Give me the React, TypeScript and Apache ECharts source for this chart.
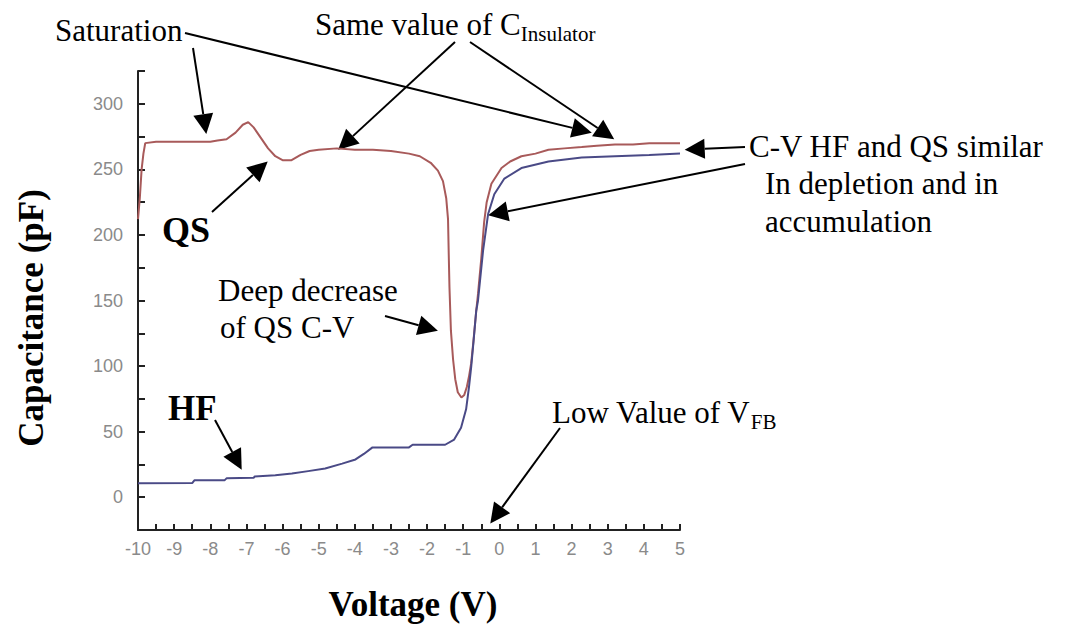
import React, { useEffect, useRef } from "react";
import * as echarts from "echarts";

// QS (quasi-static) C-V curve
const QS_VOLT = [
  -10, -9.95, -9.9, -9.85, -9.8, -9.5, -9.0, -8.5, -8.0, -7.8, -7.55, -7.3, -7.1, -6.95, -6.8, -6.6, -6.4, -6.2,
  -6.0, -5.75, -5.5, -5.25, -5.0, -4.5, -4.0, -3.5, -3.0, -2.5, -2.2, -1.9, -1.7, -1.56, -1.47, -1.42, -1.4,
  -1.38, -1.34, -1.28, -1.22, -1.15, -1.05, -0.97, -0.9, -0.84, -0.78, -0.72, -0.64, -0.59, -0.5, -0.42,
  -0.35, -0.22, 0.06, 0.3, 0.61, 1.0, 1.36, 1.8, 2.28, 2.7, 3.2, 3.7, 4.15, 4.6, 5.0,
];
const QS_CAP = [
  212, 228, 250, 262, 270, 271, 271, 271, 271, 272, 273, 278, 284, 286, 282, 274, 266, 260,
  257, 257, 261, 264, 265, 266, 265, 265, 264, 262, 260, 255, 249, 241, 228, 212, 185,
  160, 127, 105, 90, 80, 76, 78, 84, 92, 102, 118, 142, 155, 182, 210,
  225, 239, 251, 256, 260, 262, 265, 266, 267, 268, 269, 269, 270, 270, 270,
];

// HF (high frequency) C-V curve
const HF_VOLT = [
  -10, -8.5, -8.44, -7.6, -7.55, -6.8, -6.77, -6.2, -5.74, -5.29, -4.82, -4.35, -3.98, -3.75, -3.51, -2.5,
  -2.4, -1.5, -1.25, -1.06, -0.92, -0.84, -0.78, -0.72, -0.64, -0.59, -0.45, -0.31, -0.14, 0.14, 0.61,
  1.36, 2.28, 3.2, 4.15, 5.0,
];
const HF_CAP = [
  10.6, 10.8, 12.9, 13, 14.4, 14.8, 15.8, 16.7, 18, 19.9, 21.9, 25.6, 28.8, 33, 38, 38,
  40, 40, 44, 53, 67, 84, 99, 117, 142, 150, 188, 216, 231, 243, 251,
  256, 259, 260, 261, 262,
];

const X_TICK_LABELS = [-10, -9, -8, -7, -6, -5, -4, -3, -2, -1, 0, 1, 2, 3, 4, 5];
const Y_TICK_LABELS = [0, 50, 100, 150, 200, 250, 300];

// Arrow targets in data coordinates [voltage, capacitance]
const ARROW_TIPS = {
  saturationShort: [-8.11, 277],
  saturationLong: [2.56, 278],
  sameLeft: [-4.46, 265],
  sameRight: [3.18, 273],
  qs: [-6.41, 256],
  cvTop: [5.13, 265],
  cvMid: [-0.31, 215],
  deep: [-1.7, 127],
  hf: [-7.13, 21],
  vfb: [-0.25, -20],
};

const SERIF = '"Liberation Serif", "Times New Roman", serif';
const SANS = '"Liberation Sans", Arial, sans-serif';

function arrow(x1: number, y1: number, x2: number, y2: number, L = 20, W = 10) {
  const dx = x2 - x1;
  const dy = y2 - y1;
  const len = Math.sqrt(dx * dx + dy * dy);
  const ux = dx / len;
  const uy = dy / len;
  const bx = x2 - ux * L;
  const by = y2 - uy * L;
  const nx = -uy;
  const ny = ux;
  return [
    {
      type: "line",
      shape: { x1, y1, x2: bx, y2: by },
      style: { stroke: "#000", lineWidth: 2 },
      silent: true,
    },
    {
      type: "polygon",
      shape: {
        points: [
          [x2, y2],
          [bx + nx * W, by + ny * W],
          [bx - nx * W, by - ny * W],
        ],
      },
      style: { fill: "#000" },
      silent: true,
    },
  ];
}

function txt(text: string, x: number, y: number, size = 31, weight = "normal", align = "left") {
  return {
    type: "text",
    x,
    y,
    silent: true,
    style: {
      text,
      fontSize: size,
      fontFamily: SERIF,
      fontWeight: weight,
      fill: "#000",
      align,
      verticalAlign: "middle",
    },
  };
}

export default function App() {
  const ref = useRef<HTMLDivElement>(null);

  useEffect(() => {
    if (!ref.current) return;
    const chart = echarts.init(ref.current, null, { renderer: "svg" });
    chart.setOption({
      animation: false,
      backgroundColor: "#ffffff",
      grid: { left: 138, right: 388, top: 71, bottom: 96 },
      xAxis: {
        type: "value",
        min: -10,
        max: 5,
        interval: 0.5,
        axisLine: { onZero: false, lineStyle: { color: "#222", width: 2 } },
        axisTick: { inside: true, length: 6, lineStyle: { color: "#222", width: 2 } },
        splitLine: { show: false },
        axisLabel: {
          color: "#8a8a8a",
          fontFamily: SANS,
          fontSize: 18,
          margin: 10,
          formatter: (v: number) => (X_TICK_LABELS.includes(v) ? String(v) : ""),
        },
      },
      yAxis: {
        type: "value",
        min: -25,
        max: 325,
        interval: 25,
        axisLine: { show: true, onZero: false, lineStyle: { color: "#222", width: 2 } },
        axisTick: { show: true, inside: true, length: 7, lineStyle: { color: "#222", width: 2 } },
        splitLine: { show: false },
        axisLabel: {
          color: "#8a8a8a",
          fontFamily: SANS,
          fontSize: 18,
          margin: 15,
          formatter: (v: number) => (Y_TICK_LABELS.includes(v) ? String(v) : ""),
        },
      },
      series: [
        {
          name: "QS",
          type: "line",
          data: QS_VOLT.map((v, i) => [v, QS_CAP[i]]),
          showSymbol: false,
          lineStyle: { color: "#a85a5a", width: 2 },
          z: 3,
        },
        {
          name: "HF",
          type: "line",
          data: HF_VOLT.map((v, i) => [v, HF_CAP[i]]),
          showSymbol: false,
          lineStyle: { color: "#4a4a86", width: 2 },
          z: 4,
        },
      ],
    });

    const px = (p: number[]) => chart.convertToPixel({ gridIndex: 0 }, p) as number[];
    const T = ARROW_TIPS;
    const els: any[] = [];
    const add = (x1: number, y1: number, tip: number[]) => {
      const [x2, y2] = px(tip);
      els.push(...arrow(x1, y1, x2, y2));
    };
    add(193, 48, T.saturationShort);
    add(185, 33, T.saturationLong);
    add(455, 42, T.sameLeft);
    add(470, 42, T.sameRight);
    add(212, 212, T.qs);
    add(745, 147, T.cvTop);
    add(745, 164, T.cvMid);
    add(385, 316, T.deep);
    add(215, 420, T.hf);
    add(560, 428, T.vfb);

    els.push(txt("Saturation", 55, 30));
    els.push({
      type: "text",
      x: 315,
      y: 24,
      silent: true,
      style: {
        text: "{a|Same value of C}{b|Insulator}",
        verticalAlign: "middle",
        align: "left",
        rich: {
          a: { fontSize: 31, fontFamily: SERIF, fill: "#000", lineHeight: 40, verticalAlign: "middle" },
          b: { fontSize: 21, fontFamily: SERIF, fill: "#000", lineHeight: 40, verticalAlign: "bottom" },
        },
      },
    });
    els.push(txt("C-V HF and QS similar", 749, 146));
    els.push(txt("In depletion and in", 765, 183));
    els.push(txt("accumulation", 765, 221));
    els.push(txt("QS", 162, 230, 36, "bold"));
    els.push(txt("Deep decrease", 218, 290));
    els.push(txt("of QS C-V", 220, 327));
    els.push(txt("HF", 168, 408, 35, "bold"));
    els.push({
      type: "text",
      x: 552,
      y: 412,
      silent: true,
      style: {
        text: "{a|Low Value of V}{b|FB}",
        verticalAlign: "middle",
        align: "left",
        rich: {
          a: { fontSize: 31, fontFamily: SERIF, fill: "#000", lineHeight: 40, verticalAlign: "middle" },
          b: { fontSize: 21, fontFamily: SERIF, fill: "#000", lineHeight: 40, verticalAlign: "bottom" },
        },
      },
    });
    els.push(txt("Voltage (V)", 413, 604, 35, "bold", "center"));
    els.push({
      type: "text",
      x: 31,
      y: 318,
      rotation: Math.PI / 2,
      silent: true,
      style: {
        text: "Capacitance (pF)",
        fontSize: 35,
        fontFamily: SERIF,
        fontWeight: "bold",
        fill: "#000",
        align: "center",
        verticalAlign: "middle",
      },
    });

    chart.setOption({ graphic: els });

    return () => chart.dispose();
  }, []);

  return (
    <div
      ref={ref}
      style={{ position: "fixed", left: 0, top: 0, width: 1068, height: 626, background: "#fff" }}
    />
  );
}
